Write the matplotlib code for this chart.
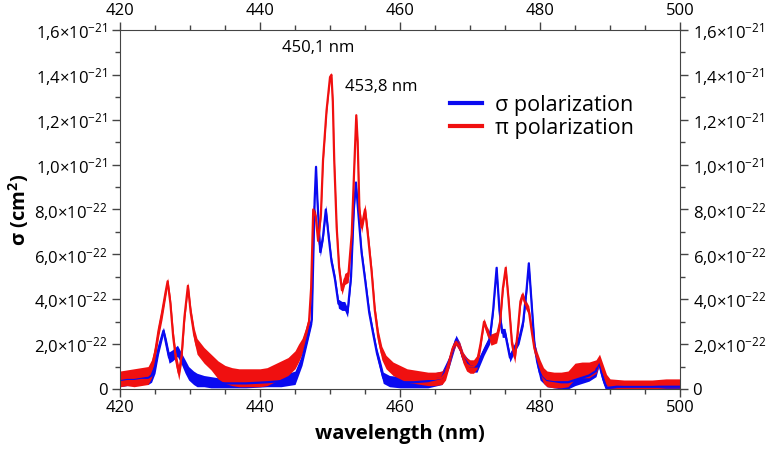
import numpy as np
import matplotlib

matplotlib.use('Agg')
import matplotlib.pyplot as plt
from matplotlib.ticker import MultipleLocator, FuncFormatter

# values, cross sections in units of 1e-22 cm^2
# band = half thickness of the noisy trace
sigma_wl = [420, 421, 422, 423, 424, 424.5, 425, 425.5, 426.2, 426.6, 427, 427.5,
            428.2, 428.7, 429.3, 429.8, 430.5, 431, 432, 433, 435, 438, 441, 443,
            445, 446, 446.8, 447.4, 447.8, 448.0, 448.2, 448.6, 449.0, 449.4, 449.8,
            450.2, 450.7, 451.2, 451.7, 452.1, 452.5, 453.0, 453.4, 453.7, 454.0,
            454.5, 455.0, 455.6, 456.2, 456.7, 457.2, 457.6, 458.5, 460, 462, 464,
            466, 467, 468, 468.5, 469, 470, 471, 472, 472.8, 473.3, 473.8, 474.2,
            474.6, 475, 475.7, 476.3, 477, 477.6, 478.1, 478.4, 478.8, 479.2, 479.6,
            480, 481, 482, 483, 484, 485, 486, 487, 488, 488.4, 488.8, 489.3, 489.6,
            491, 494, 497, 500]
sigma_val = [0.4, 0.45, 0.45, 0.5, 0.5, 0.6, 1.0, 1.8, 2.6, 2.0, 1.4, 1.5,
             1.7, 1.4, 1.0, 0.7, 0.5, 0.4, 0.35, 0.3, 0.25, 0.25, 0.3, 0.35,
             0.5, 1.3, 2.3, 3.1, 8.4, 9.9, 8.4, 6.1, 6.8, 8.0, 6.8,
             5.7, 4.9, 3.8, 3.7, 3.7, 3.4, 5.0, 8.0, 9.2, 8.0,
             6.1, 4.9, 3.4, 2.4, 1.6, 1.0, 0.5, 0.35, 0.3, 0.3, 0.35,
             0.5, 1.2, 2.2, 1.9, 1.4, 1.0, 1.0, 1.7, 2.2, 3.5, 5.4, 3.5,
             2.5, 2.5, 1.4, 1.8, 2.2, 3.0, 4.5, 5.6, 3.8, 2.0, 1.2,
             0.7, 0.4, 0.35, 0.3, 0.3, 0.4, 0.5, 0.6, 0.8, 1.2, 0.7, 0.2, 0.05,
             0.1, 0.1, 0.1, 0.1]
sigma_band = [0.3, 0.3, 0.3, 0.3, 0.3, 0.3, 0.3, 0.25, 0.15, 0.25, 0.25, 0.25,
              0.25, 0.25, 0.3, 0.3, 0.3, 0.3, 0.25, 0.25, 0.2, 0.2, 0.2, 0.25,
              0.3, 0.25, 0.2, 0.2, 0.15, 0.1, 0.15, 0.2, 0.2, 0.2, 0.2,
              0.2, 0.2, 0.2, 0.2, 0.2, 0.2, 0.2, 0.2, 0.1, 0.2,
              0.2, 0.2, 0.2, 0.2, 0.2, 0.25, 0.25, 0.25, 0.25, 0.25, 0.3,
              0.3, 0.25, 0.2, 0.2, 0.2, 0.25, 0.25, 0.2, 0.2, 0.2, 0.1, 0.2,
              0.2, 0.2, 0.2, 0.2, 0.2, 0.2, 0.2, 0.1, 0.2, 0.2, 0.25,
              0.3, 0.3, 0.3, 0.3, 0.3, 0.25, 0.25, 0.25, 0.25, 0.2, 0.25, 0.2, 0.05,
              0.1, 0.1, 0.1, 0.1]

pi_wl = [420, 421, 422, 423, 424, 424.5, 425, 425.5, 426, 426.5, 426.8, 427.2, 427.6,
         428, 428.4, 428.8, 429.2, 429.7, 430.1, 430.6, 431, 432, 433, 434, 435, 436,
         437, 438, 439, 440, 441, 442, 443, 444, 445, 445.5, 446, 446.5, 447, 447.3,
         447.6, 447.95, 448.3, 448.7, 449.0, 449.5, 450.0, 450.2, 450.4, 450.6,
         450.95, 451.3, 451.7, 452.1, 452.6, 453.1, 453.5, 453.75, 453.95, 454.2,
         454.5, 455.0, 455.4, 455.95, 456.4, 456.9, 457.4, 458, 459, 460, 461, 462,
         463, 464, 465, 466, 466.5, 467, 467.5, 468, 468.5, 469, 469.5, 470, 470.5,
         471, 471.5, 472, 472.4, 473, 473.8, 474.3, 474.7, 475.1, 475.5, 476, 476.4,
         476.8, 477.2, 477.5, 477.9, 478.4, 478.8, 479.2, 479.6, 480, 480.5, 481, 482,
         483, 484, 485, 486, 487, 488, 488.5, 489, 489.5, 490, 492, 494, 496, 498, 500]
pi_val = [0.45, 0.5, 0.5, 0.55, 0.6, 0.9, 1.6, 2.6, 3.4, 4.3, 4.8, 3.8, 2.3,
          1.3, 0.7, 1.5, 3.2, 4.6, 3.4, 2.4, 1.9, 1.5, 1.2, 0.85, 0.65, 0.55,
          0.5, 0.5, 0.5, 0.5, 0.55, 0.7, 0.85, 1.0, 1.3, 1.6, 1.9, 2.4, 3.0, 4.5,
          8.0, 7.7, 6.6, 7.8, 10.2, 12.4, 13.9, 14.0, 12.8, 10.2,
          7.2, 5.4, 4.4, 4.9, 5.0, 6.9, 10.2, 12.2, 11.0, 8.0,
          7.2, 8.0, 6.9, 5.2, 3.5, 2.3, 1.6, 1.2, 0.9, 0.75, 0.6, 0.55,
          0.5, 0.45, 0.45, 0.5, 0.7, 1.2, 1.8, 2.1, 1.9, 1.4, 1.1, 1.0, 1.0,
          1.2, 2.0, 3.0, 2.6, 2.2, 2.3, 3.0, 4.5, 5.4, 4.0, 2.0, 1.4,
          2.5, 3.9, 4.2, 3.8, 3.5, 2.6, 1.8, 1.4, 1.0, 0.6, 0.45, 0.4,
          0.4, 0.45, 0.8, 0.85, 0.85, 1.0, 1.3, 0.8, 0.4, 0.25, 0.2, 0.2, 0.2, 0.25, 0.25]
pi_band = [0.35, 0.35, 0.4, 0.4, 0.4, 0.4, 0.35, 0.3, 0.3, 0.25, 0.15, 0.25, 0.3,
           0.3, 0.3, 0.3, 0.25, 0.15, 0.25, 0.3, 0.35, 0.35, 0.35, 0.4, 0.4, 0.4,
           0.4, 0.4, 0.4, 0.4, 0.4, 0.4, 0.4, 0.4, 0.4, 0.4, 0.35, 0.3, 0.3, 0.3,
           0.2, 0.2, 0.2, 0.2, 0.2, 0.15, 0.1, 0.1, 0.15, 0.2,
           0.2, 0.2, 0.2, 0.25, 0.25, 0.2, 0.2, 0.1, 0.15, 0.2,
           0.25, 0.25, 0.25, 0.25, 0.25, 0.3, 0.3, 0.3, 0.3, 0.3, 0.3, 0.3,
           0.3, 0.3, 0.3, 0.3, 0.3, 0.25, 0.2, 0.15, 0.2, 0.25, 0.3, 0.3, 0.3,
           0.3, 0.25, 0.15, 0.2, 0.25, 0.25, 0.25, 0.2, 0.15, 0.2, 0.25, 0.25,
           0.25, 0.2, 0.15, 0.2, 0.2, 0.25, 0.25, 0.25, 0.3, 0.35, 0.35, 0.35,
           0.35, 0.35, 0.35, 0.35, 0.35, 0.3, 0.25, 0.3, 0.25, 0.2, 0.2, 0.2, 0.2, 0.2, 0.2]

peak_labels = ['450,1 nm', '453,8 nm']
peak_pos = [(448.3, 15.2), (457.3, 13.45)]

SCALE = 1e-22
plt.rcParams['font.family'] = ['Open Sans', 'DejaVu Sans']
plt.rcParams['mathtext.default'] = 'regular'


def sci_fmt(v, pos):
    if abs(v) < 1e-30:
        return '0'
    exp = int(np.floor(np.log10(abs(v)) + 1e-9))
    mant = v / 10 ** exp
    return '%s×10$^{%d}$' % (('%.1f' % mant).replace('.', ','), exp)


fig = plt.figure(figsize=(7.67, 4.5), dpi=100)
ax = fig.add_axes([0.1565, 0.1356, 0.7301, 0.7978])

for wl, val, band, col, lab in [(sigma_wl, sigma_val, sigma_band, '#0a0af0', 'σ polarization'),
                                (pi_wl, pi_val, pi_band, '#f01010', 'π polarization')]:
    wl = np.array(wl)
    val = np.array(val)
    band = np.array(band)
    ax.fill_between(wl, np.clip(val - band, 0, None) * SCALE, (val + band) * SCALE,
                    color=col, lw=0)
    ax.plot(wl, val * SCALE, color=col, lw=1.6, label=lab)

for txt, (x, y) in zip(peak_labels, peak_pos):
    ax.text(x, y * SCALE, txt, ha='center', va='center', fontsize=12)

ax.set_xlim(420, 500)
ax.set_ylim(0, 1.6e-21)
ax.xaxis.set_major_locator(MultipleLocator(20))
ax.xaxis.set_minor_locator(MultipleLocator(5))
ax.yaxis.set_major_locator(MultipleLocator(2e-22))
ax.yaxis.set_minor_locator(MultipleLocator(1e-22))
ax.yaxis.set_major_formatter(FuncFormatter(sci_fmt))
ax.tick_params(which='both', direction='out', top=True, right=True,
               labeltop=True, labelright=True, labelsize=12, color='#444444', pad=3)
ax.tick_params(axis='x', which='both', pad=2)
ax.tick_params(which='major', length=6, width=1)
ax.tick_params(which='minor', length=3.5, width=1)
for s in ax.spines.values():
    s.set_color('#444444')

ax.set_xlabel('wavelength (nm)', fontsize=14.5, fontweight='bold', labelpad=6)
ax.set_ylabel('σ (cm$^2$)', fontsize=14.5, fontweight='bold', labelpad=2)

leg = ax.legend(loc='upper left', bbox_to_anchor=(0.57, 0.85), frameon=False,
                fontsize=15.5, handlelength=1.5, handletextpad=0.6, borderpad=0,
                labelspacing=0.1)
for h in leg.get_lines():
    h.set_linewidth(3)

plt.savefig('out.png', dpi=100)
plt.close()
